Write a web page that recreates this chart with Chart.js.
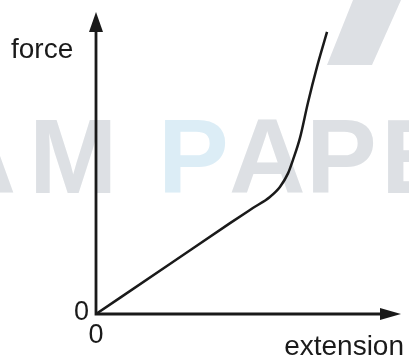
<!DOCTYPE html>
<html>
<head>
<meta charset="utf-8">
<script src="https://cdn.jsdelivr.net/npm/chart.js@4/dist/chart.umd.min.js"></script>
<style>
  html, body { margin: 0; padding: 0; background: #fff; }
  canvas { display: block; }
</style>
</head>
<body>
<canvas id="forceChart" width="409" height="358"></canvas>
<script>
// force against extension, arbitrary units (0 - 10 on each axis)
let extension = [0, 2.43, 4.41, 5.16, 5.72, 6.05, 6.32, 6.48, 6.71, 6.97, 7.27, 7.60];
let force     = [0, 1.66, 3.02, 3.52, 3.89, 4.22, 4.68, 5.12, 5.85, 7.01, 8.21, 9.37];

let xTitle = "extension";
let yTitle = "force";
let originLabel = "0";

let points = extension.map((x, i) => ({ x: x, y: force[i] }));

// faint background lettering
const watermark = {
  id: 'watermark',
  beforeDraw(chart) {
    const ctx = chart.ctx;
    ctx.save();
    ctx.font = "bold 106px 'Liberation Sans', Arial, sans-serif";
    ctx.textBaseline = 'alphabetic';
    const grey = '#dde0e4';
    const blue = '#dcedf6';
    const letters = [
      { t: 'A', x: 16, align: 'right', c: grey },
      { t: 'M', x: 29, align: 'left', c: grey },
      { t: 'P', x: 158, align: 'left', c: blue },
      { t: 'A', x: 229, align: 'left', c: grey },
      { t: 'P', x: 306, align: 'left', c: grey },
      { t: 'E', x: 381, align: 'left', c: grey }
    ];
    letters.forEach(l => {
      ctx.fillStyle = l.c;
      ctx.textAlign = l.align;
      ctx.fillText(l.t, l.x, 193);
    });
    // slanted bar in the corner
    ctx.fillStyle = grey;
    ctx.beginPath();
    ctx.moveTo(353, 0);
    ctx.lineTo(401, 0);
    ctx.lineTo(372, 65);
    ctx.lineTo(327, 65);
    ctx.closePath();
    ctx.fill();
    ctx.restore();
  }
};

// axes with arrow heads, origin labels and titles
const axesArrows = {
  id: 'axesArrows',
  afterDatasetsDraw(chart) {
    const ctx = chart.ctx;
    const xs = chart.scales.x;
    const ys = chart.scales.y;
    const area = chart.chartArea;
    const ox = xs.getPixelForValue(0);
    const oy = ys.getPixelForValue(0);

    ctx.save();
    ctx.strokeStyle = '#1a1a1a';
    ctx.fillStyle = '#1a1a1a';
    ctx.lineWidth = 2.8;
    ctx.lineCap = 'butt';

    ctx.beginPath();
    ctx.moveTo(ox, oy + 1.4);
    ctx.lineTo(ox, area.top + 12);
    ctx.moveTo(ox - 1.4, oy);
    ctx.lineTo(area.right - 12, oy);
    ctx.stroke();

    // up arrow
    ctx.beginPath();
    ctx.moveTo(ox, area.top - 1);
    ctx.lineTo(ox + 7, area.top + 19);
    ctx.lineTo(ox - 7, area.top + 19);
    ctx.closePath();
    ctx.fill();

    // right arrow
    ctx.beginPath();
    ctx.moveTo(area.right + 1, oy);
    ctx.lineTo(area.right - 20, oy - 6);
    ctx.lineTo(area.right - 20, oy + 6);
    ctx.closePath();
    ctx.fill();

    ctx.font = "27px 'Liberation Sans', Arial, sans-serif";
    ctx.textBaseline = 'alphabetic';

    ctx.textAlign = 'right';
    ctx.fillText(originLabel, ox - 7, oy + 6);
    ctx.textAlign = 'center';
    ctx.fillText(originLabel, ox, oy + 29);

    ctx.font = "28px 'Liberation Sans', Arial, sans-serif";
    ctx.textAlign = 'left';
    ctx.fillText(yTitle, 11, 58);
    ctx.textAlign = 'right';
    ctx.fillText(xTitle, 404, 355);

    ctx.restore();
  }
};

new Chart(document.getElementById('forceChart'), {
  type: 'scatter',
  data: {
    datasets: [{
      data: points,
      showLine: true,
      borderColor: '#1a1a1a',
      borderWidth: 2.5,
      pointRadius: 0,
      cubicInterpolationMode: 'monotone',
      fill: false
    }]
  },
  options: {
    responsive: false,
    animation: false,
    layout: { padding: { left: 96, right: 9, top: 13, bottom: 44 } },
    plugins: {
      legend: { display: false },
      tooltip: { enabled: false }
    },
    scales: {
      x: { type: 'linear', min: 0, max: 10, display: false },
      y: { type: 'linear', min: 0, max: 10, display: false }
    }
  },
  plugins: [watermark, axesArrows]
});
</script>
</body>
</html>
